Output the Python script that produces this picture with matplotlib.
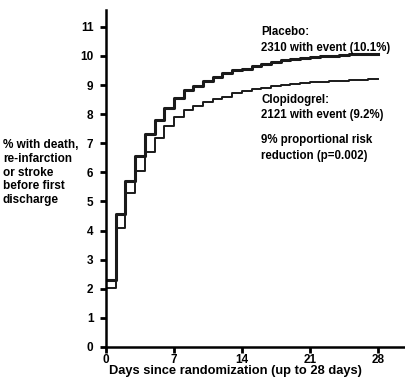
import numpy as np
import matplotlib.pyplot as plt

plt.rcParams['font.family'] = ['Liberation Sans', 'DejaVu Sans']
plt.rcParams['font.weight'] = 'bold'

# cumulative % with event, one value per day interval [d, d+1)
days = np.arange(0, 29)
placebo = [2.3, 4.56, 5.72, 6.56, 7.32, 7.8, 8.2, 8.55, 8.83, 8.97, 9.14, 9.29, 9.4, 9.5,
           9.56, 9.66, 9.74, 9.8, 9.85, 9.89, 9.93, 9.97, 9.99, 10.01, 10.03, 10.05, 10.06, 10.07]
clopidogrel = [2.04, 4.1, 5.3, 6.06, 6.69, 7.19, 7.6, 7.91, 8.14, 8.28, 8.43, 8.51, 8.6, 8.72,
               8.79, 8.85, 8.9, 8.95, 8.99, 9.03, 9.06, 9.09, 9.11, 9.13, 9.15, 9.17, 9.19, 9.2]
xticks = [0, 7, 14, 21, 28]
yticks = list(range(0, 12))

fig = plt.figure(figsize=(4.06, 3.77), dpi=100)
ax = fig.add_axes([0.261, 0.0796, 0.7365, 0.894])

ax.plot(days, placebo + [placebo[-1]], drawstyle='steps-post', color='#1a1a1a', lw=2.2)
ax.plot(days, clopidogrel + [clopidogrel[-1]], drawstyle='steps-post', color='#1a1a1a', lw=1.4)

ax.set_xlim(0, 30.8)
ax.set_ylim(0, 11.58)
ax.set_xticks(xticks)
ax.set_yticks(yticks)
ax.tick_params(direction='out', length=4, width=2, labelsize=8.5)
ax.tick_params(axis='x', pad=1)
ax.tick_params(axis='y', pad=5)
for s in ['top', 'right']:
    ax.spines[s].set_visible(False)
for s in ['left', 'bottom']:
    ax.spines[s].set_linewidth(1.8)

ax.text(13.3, -0.83, 'Days since randomization (up to 28 days)', ha='center', va='center',
        fontsize=9.3, transform=ax.transData, clip_on=False)
fig.text(3 / 406, 1 - 139 / 377, '% with death,\nre-infarction\nor stroke\nbefore first\ndischarge',
         ha='left', va='top', fontsize=8.5, linespacing=1.2)

ax.text(16.0, 10.55, 'Placebo:\n2310 with event (10.1%)', fontsize=8.3, va='center', linespacing=1.4)
ax.text(16.0, 8.23, 'Clopidogrel:\n2121 with event (9.2%)', fontsize=8.3, va='center', linespacing=1.4)
ax.text(16.0, 6.84, '9% proportional risk\nreduction (p=0.002)', fontsize=8.3, va='center', linespacing=1.4)

fig.savefig('out.png', dpi=100)
